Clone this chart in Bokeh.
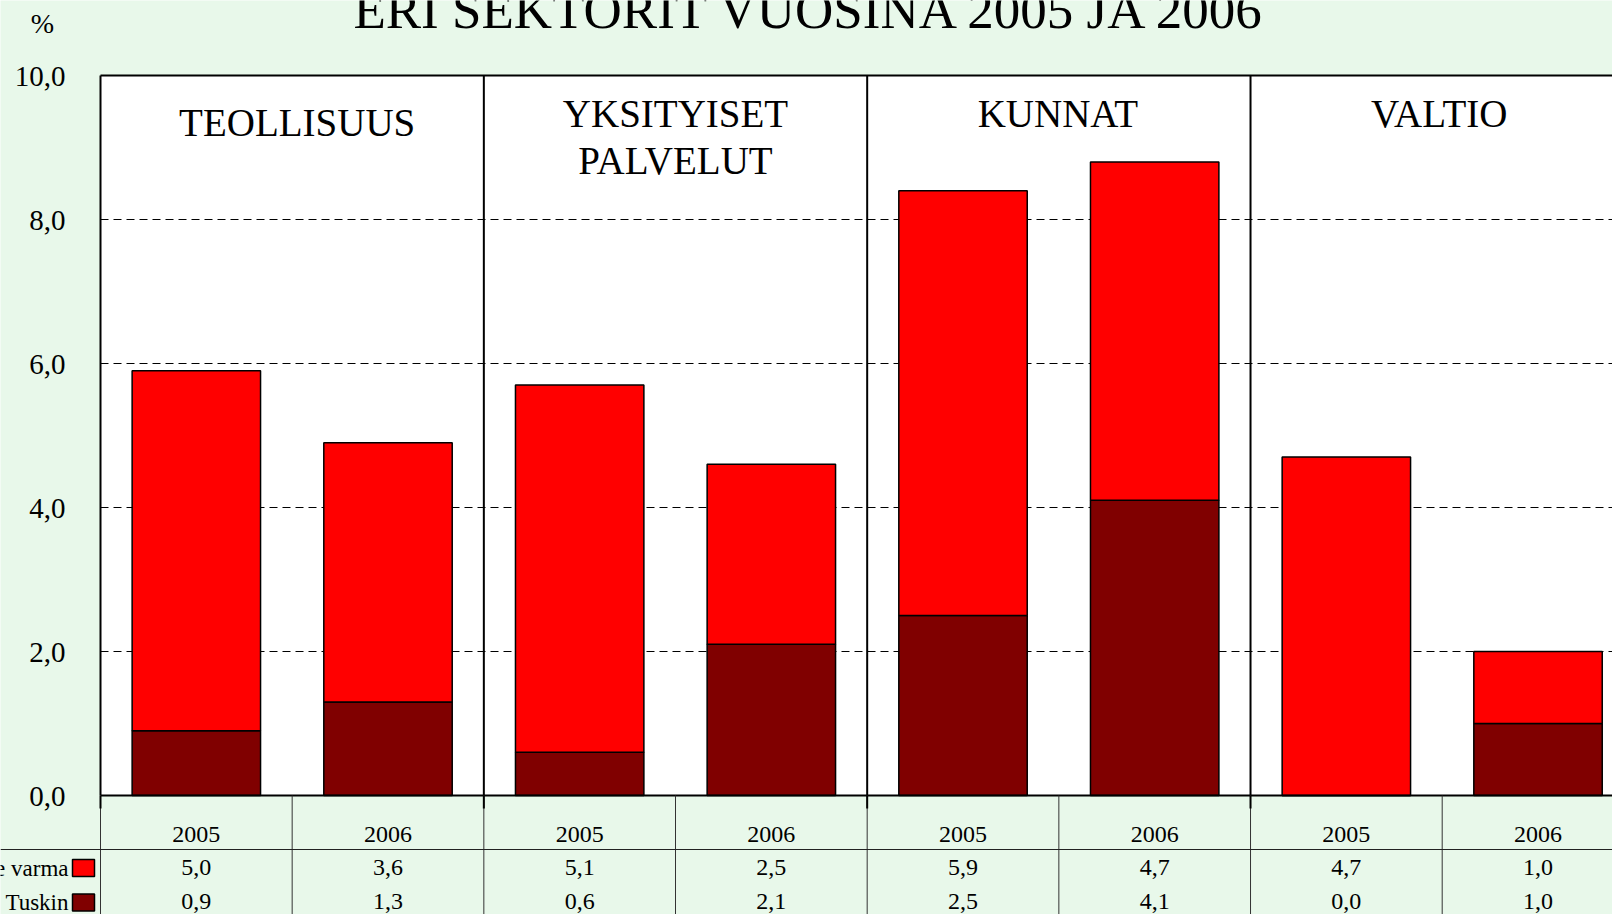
from bokeh.plotting import figure
from bokeh.models import Range1d, ColumnDataSource
from bokeh.core.properties import value
from bokeh.embed import file_html
from bokeh.resources import INLINE

# ---------------- data ----------------
title_text = "ERI SEKTORIT VUOSINA 2005 JA 2006"
unit_text = "%"
sectors = ["TEOLLISUUS", "YKSITYISET\nPALVELUT", "KUNNAT", "VALTIO"]
years = ["2005", "2006"]
series_names = ["e varma", "Tuskin"]
varma = [5.0, 3.6, 5.1, 2.5, 5.9, 4.7, 4.7, 1.0]
tuskin = [0.9, 1.3, 0.6, 2.1, 2.5, 4.1, 0.0, 1.0]
y_ticks = [0, 2, 4, 6, 8, 10]

# ---------------- style / layout ----------------
BG = "#E8F8EA"
RED = "#FF0000"
DARK = "#800000"
FONT = "Liberation Serif"
W, H = 1612, 914
X0_PX = 100        # page x of data x = 0 (left edge of plot area)
Y0_PX = 795        # page y of data y = 0
CAT_PX = 191.67    # pixels per category
Y_PX = 72.0        # pixels per y unit
BASE_FIX = 0.36    # em shift so that the glyph baseline lands where intended


def px_x(page_x):
    return (page_x - X0_PX) / CAT_PX


def px_y(page_y):
    return (Y0_PX - page_y) / Y_PX


def base_y(page_baseline, fs):
    return px_y(page_baseline - BASE_FIX * fs)


n = len(varma)
n_total = 2 * len(sectors)
y_top = y_ticks[-1]
xs = [i + 0.5 for i in range(n)]
totals = [a + b for a, b in zip(varma, tuskin)]
src = ColumnDataSource(dict(x=xs, tuskin=tuskin, total=totals))

p = figure(width=W, height=H, x_range=Range1d(px_x(0), px_x(W)),
           y_range=Range1d(px_y(H), px_y(0)),
           output_backend="svg", toolbar_location=None,
           x_axis_location=None, y_axis_location=None,
           min_border_left=0, min_border_right=0, min_border_top=0, min_border_bottom=0,
           border_fill_color=BG, background_fill_color=BG, outline_line_color=None)
p.grid.visible = False

# plot area
p.quad(left=[0], right=[n_total], bottom=[0], top=[y_top], fill_color="white", line_color=None)

# dashed grid lines
grid = y_ticks[1:-1]
p.segment(x0=[0] * len(grid), x1=[n_total] * len(grid), y0=grid, y1=grid,
          line_color="black", line_width=1, line_dash="8 5")

# stacked bars
p.vbar(x="x", bottom=0, top="tuskin", width=0.67, source=src,
       fill_color=DARK, line_color="black", line_width=1.5)
p.vbar(x="x", bottom="tuskin", top="total", width=0.67, source=src,
       fill_color=RED, line_color="black", line_width=1.5)

# frame lines
p.segment(x0=[0, 0], x1=[n_total, n_total], y0=[0, y_top], y1=[0, y_top],
          line_color="black", line_width=2)
seps = [2 * k for k in range(len(sectors))]
p.segment(x0=seps, x1=seps, y0=[0] * len(seps), y1=[y_top] * len(seps),
          line_color="black", line_width=2)

# y tick labels
fmt = lambda v: f"{v:.1f}".replace(".", ",")
p.text(x=[px_x(65)] * len(y_ticks),
       y=[base_y(Y0_PX - t * Y_PX + 11.5, 29) for t in y_ticks],
       text=[fmt(t) for t in y_ticks], text_align="right", text_baseline="alphabetic",
       text_font=value(FONT), text_font_size="29px", text_color="black")
p.text(x=[px_x(42)], y=[base_y(33, 28)], text=[unit_text], text_align="center",
       text_baseline="alphabetic", text_font=value(FONT), text_font_size="28px",
       text_color="black")

# title
p.text(x=[px_x(811)], y=[base_y(29, 53)], text=[title_text], text_align="center",
       text_baseline="alphabetic", text_font=value(FONT), text_font_size="53px",
       text_color="black")

# panel labels
label_baseline_px = [136, 127, 127, 127]
label_dx_px = [5, 0, -1, -3]
LINE_GAP = 47
lab_x, lab_y, lab_t = [], [], []
for k, name in enumerate(sectors):
    for j, line in enumerate(name.split("\n")):
        lab_x.append(2 * k + 1 + label_dx_px[k] / CAT_PX)
        lab_y.append(base_y(label_baseline_px[k] + LINE_GAP * j, 39))
        lab_t.append(line)
p.text(x=lab_x, y=lab_y, text=lab_t, text_align="center", text_baseline="alphabetic",
       text_font=value(FONT), text_font_size="39px", text_color="black")

# ---------------- data table ----------------
bottom = px_y(H)
bounds = list(range(n_total))
p.segment(x0=bounds, x1=bounds, y0=[0] * len(bounds), y1=[bottom] * len(bounds),
          line_color="#333333", line_width=1)
p.segment(x0=seps, x1=seps, y0=[0] * len(seps), y1=[px_y(Y0_PX + 13)] * len(seps),
          line_color="black", line_width=2)
p.segment(x0=[px_x(0)], x1=[px_x(W)], y0=[px_y(849)], y1=[px_y(849)],
          line_color="#222222", line_width=1)

year_labels = [y for _ in sectors for y in years]
row_base = [876, 910]
p.text(x=xs, y=[base_y(842.7, 24)] * n, text=year_labels, text_align="center",
       text_baseline="alphabetic", text_font=value(FONT), text_font_size="24px",
       text_color="black")
p.text(x=xs, y=[base_y(row_base[0], 24)] * n, text=[fmt(v) for v in varma],
       text_align="center", text_baseline="alphabetic", text_font=value(FONT),
       text_font_size="24px", text_color="black")
p.text(x=xs, y=[base_y(row_base[1], 24)] * n, text=[fmt(v) for v in tuskin],
       text_align="center", text_baseline="alphabetic", text_font=value(FONT),
       text_font_size="24px", text_color="black")

# legend keys
p.rect(x=[px_x(83)] * 2, y=[px_y(867.5), px_y(902)], width=22, height=17,
       width_units="screen", height_units="screen", fill_color=[RED, DARK],
       line_color="black", line_width=1.5)
p.text(x=[px_x(68)] * 2, y=[base_y(b, 23) for b in row_base], text=series_names,
       text_align="right", text_baseline="alphabetic", text_font=value(FONT),
       text_font_size="23px", text_color="black")

open("out.html", "w").write(file_html(p, INLINE))
